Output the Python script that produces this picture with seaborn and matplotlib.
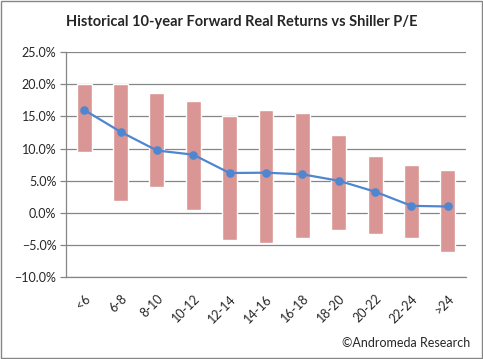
import numpy as np
import pandas as pd
import matplotlib
matplotlib.use("Agg")
import matplotlib.pyplot as plt
import seaborn as sns
from matplotlib.ticker import PercentFormatter, FixedLocator
from matplotlib.patches import Rectangle

# Shiller P/E buckets
categories = ["<6", "6-8", "8-10", "10-12", "12-14", "14-16", "16-18", "18-20", "20-22", "22-24", ">24"]
# range of 10-year forward real returns (%)
range_high = [20.0, 20.0, 18.7, 17.4, 15.1, 16.0, 15.55, 12.15, 8.9, 7.5, 6.6]
range_low = [9.4, 1.8, 4.0, 0.4, -4.25, -4.7, -3.9, -2.7, -3.3, -3.9, -6.0]
# average return (%)
avg_return = [16.0, 12.6, 9.7, 9.05, 6.2, 6.25, 6.0, 5.0, 3.3, 1.1, 1.0]

df = pd.DataFrame({"pe": categories, "high": range_high, "low": range_low, "avg": avg_return})
df["span"] = df["high"] - df["low"]

sns.set_style("white")
plt.rcParams["font.family"] = ["Lato", "DejaVu Sans"]

fig = plt.figure(figsize=(4.83, 3.59), dpi=100)
ax = fig.add_axes([66 / 483, 1 - 277.3 / 359, 400 / 483, (277.3 - 52) / 359])

sns.barplot(data=df, x="pe", y="span", bottom=df["low"].values, color="#D99694",
            saturation=1, width=0.41, ax=ax, zorder=2)
sns.pointplot(data=df, x="pe", y="avg", color="#4F86D0", markers="o", linewidth=1.6,
              markersize=5, ax=ax, zorder=3)

ax.set_ylim(-10, 25)
ax.set_xlim(-0.5, len(categories) - 0.5)
ax.yaxis.set_major_locator(FixedLocator(np.arange(-10, 26, 5)))
ax.yaxis.set_major_formatter(PercentFormatter(decimals=1))
ax.grid(axis="y", color="#868686", linewidth=0.9, zorder=0)
ax.set_axisbelow(True)
ax.set_xlabel("")
ax.set_ylabel("")

for side in ["top", "right"]:
    ax.spines[side].set_visible(False)
for side in ["left", "bottom"]:
    ax.spines[side].set_color("#868686")
    ax.spines[side].set_linewidth(0.9)

ax.set_xticks(range(len(categories)))
ax.set_xticklabels(categories, rotation=45, ha="right", rotation_mode="anchor", fontsize=9)
ax.tick_params(axis="x", length=0, pad=11)
ax.set_xticks(np.arange(-0.5, len(categories), 1), minor=True)
ax.tick_params(axis="x", which="minor", length=4, color="#868686", width=0.9)
ax.tick_params(axis="y", length=4, color="#868686", width=0.9, labelsize=9, pad=3, left=True)

fig.text(0.5, 1 - 22 / 359, "Historical 10-year Forward Real Returns vs Shiller P/E",
         ha="center", va="center", fontsize=10.5, fontweight="bold")
fig.text(470 / 483, 1 - 343 / 359, "\u00a9Andromeda Research", ha="right", va="center", fontsize=9)

fig.patches.append(Rectangle((0.002, 0.003), 0.995, 0.994, transform=fig.transFigure,
                             fill=False, edgecolor="#868686", linewidth=1))

fig.savefig("out.png", dpi=100)
